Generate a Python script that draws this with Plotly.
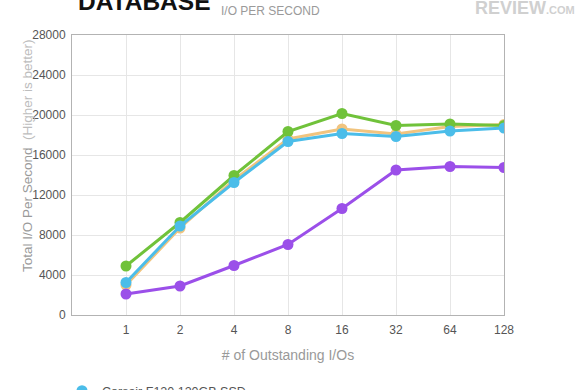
import plotly.graph_objects as go

categories = ["1", "2", "4", "8", "16", "32", "64", "128"]
y_ticks = [0, 4000, 8000, 12000, 16000, 20000, 24000, 28000]

corsair = [3250, 8900, 13250, 17350, 18150, 17850, 18400, 18700]
patriot = [4900, 9250, 13950, 18350, 20150, 18950, 19100, 18950]
orange_drive = [3000, 8700, 13500, 17600, 18600, 18100, 18850, 19050]
purple_drive = [2100, 2900, 4950, 7050, 10650, 14500, 14850, 14750]

names = {
    "corsair": "Corsair F120 120GB SSD",
    "patriot": "Patriot Inferno 120GB",
    "orange": "OCZ Vertex 2 120GB",
    "purple": "Kingston SSDNow V+100 128GB",
}
colors = {
    "corsair": "#4bbde9",
    "patriot": "#70c23a",
    "orange": "#f1c47e",
    "purple": "#9b4fe9",
}

FONT = "Liberation Sans, Arial, Helvetica, sans-serif"

W, H = 580, 390
PL, PR, PT, PB = 72, 504, 35, 315
PW, PH = PR - PL, PB - PT


def px(x):
    return (x - PL) / PW


def py(y):
    return (PB - y) / PH


fig = go.Figure()

series = [
    ("orange", orange_drive),
    ("patriot", patriot),
    ("corsair", corsair),
    ("purple", purple_drive),
]
for key, vals in series:
    fig.add_trace(go.Scatter(
        x=categories, y=vals, mode="lines+markers",
        line=dict(color=colors[key], width=3),
        marker=dict(color=colors[key], size=11),
        showlegend=False, hoverinfo="skip",
    ))

for rank, key in enumerate(["corsair", "patriot", "orange", "purple"]):
    fig.add_trace(go.Scatter(
        x=[None], y=[None], mode="markers",
        marker=dict(color=colors[key], size=11),
        name=names[key], legendrank=rank + 1,
    ))

fig.update_layout(
    width=W, height=H,
    margin=dict(l=PL, r=W - PR, t=PT, b=H - PB, autoexpand=False),
    paper_bgcolor="white", plot_bgcolor="white",
    font=dict(family=FONT, color="#555555", size=12),
    legend=dict(
        orientation="h", x=px(62), y=py(376), xanchor="left", yanchor="top",
        entrywidth=255, entrywidthmode="pixels",
        font=dict(family=FONT, size=12.5, color="#555555"),
        traceorder="normal",
    ),
    xaxis=dict(
        type="category", categoryorder="array", categoryarray=categories,
        range=[-1, 7],
        showgrid=True, gridcolor="#e6e6e6", gridwidth=1,
        showline=True, linecolor="#b3b3b3", linewidth=1, mirror=True,
        ticks="", tickfont=dict(size=12, color="#555555"),
        ticklabelstandoff=4,
        title=dict(text="# of Outstanding I/Os", standoff=13,
                   font=dict(size=14, color="#999999")),
        zeroline=False,
    ),
    yaxis=dict(
        range=[0, 28000], tickvals=y_ticks,
        ticktext=[str(v) for v in y_ticks],
        showgrid=True, gridcolor="#e6e6e6", gridwidth=1,
        showline=True, linecolor="#b3b3b3", linewidth=1, mirror=True,
        ticks="", tickfont=dict(size=12, color="#555555"),
        ticklabelstandoff=3,
        zeroline=False,
    ),
    annotations=[
        dict(text="Total I/O Per Second  <span style='font-size:13.5px;color:#bdbdbd'>(Higher is better)</span>",
             xref="paper", yref="paper", x=px(27), y=py(156),
             xanchor="center", yanchor="middle", textangle=-90,
             showarrow=False, font=dict(family=FONT, size=13.5, color="#9a9a9a")),
        dict(text="<b>DATABASE</b>", xref="paper", yref="paper",
             x=px(76), y=py(2), xanchor="left", yanchor="middle",
             showarrow=False, font=dict(family=FONT, size=24.5, color="#111111")),
        dict(text="I/O PER SECOND", xref="paper", yref="paper",
             x=px(219), y=py(11), xanchor="left", yanchor="middle",
             showarrow=False, font=dict(family=FONT, size=12, color="#9a9a9a")),
        dict(text="<b>REVIEW</b><span style='font-size:11px'><b>.COM</b></span>",
             xref="paper", yref="paper",
             x=px(577), y=py(8), xanchor="right", yanchor="middle",
             showarrow=False, font=dict(family=FONT, size=18, color="#d0d0d0")),
    ],
)

fig.write_html("out.html", config={"displayModeBar": False},
               post_script="document.body.style.margin='0';")
